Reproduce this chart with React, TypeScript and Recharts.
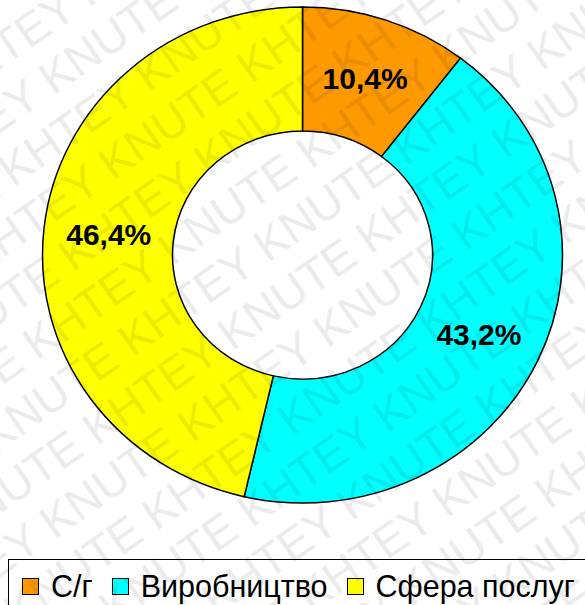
import { PieChart, Pie, Cell } from 'recharts'

// частки зайнятих за секторами, %
const categories = ['С/г', 'Виробництво', 'Сфера послуг']
const shares = [10.4, 43.2, 46.4]
const colors = ['#FF9900', '#00FFFF', '#FFFF00']

const data = categories.map((name, i) => ({ name, value: shares[i] }))

// оригінал трохи сплюснутий по вертикалі
const SY = 248 / 260
const RAD = Math.PI / 180

const fmtPct = (v: number) => v.toFixed(1).replace('.', ',') + '%'

// eslint-disable-next-line @typescript-eslint/no-explicit-any
function renderLabel(props: any) {
  const { cx, cy, midAngle, innerRadius, outerRadius, index } = props
  const r = (innerRadius + outerRadius) / 2
  const x = cx + r * Math.cos(-midAngle * RAD)
  const y = cy + r * Math.sin(-midAngle * RAD)
  return (
    <text
      transform={`translate(${x},${y}) scale(1,${1 / SY})`}
      x={0}
      y={0}
      textAnchor="middle"
      dominantBaseline="central"
      fontFamily="'Liberation Sans', Arial, sans-serif"
      fontWeight="bold"
      fontSize={30}
      fill="#000"
    >
      {fmtPct(shares[index])}
    </text>
  )
}

function Watermark() {
  const rows = []
  for (let i = 0; i < 28; i++) {
    rows.push(
      <text
        key={i}
        x={-620 + (i % 2) * 80}
        y={-420 + i * 52}
        fontFamily="'Liberation Sans', Arial, sans-serif"
        fontSize={46}
        fill="#000"
      >
        {'KHTEY KNUTE KHTEY KNUTE KHTEY KNUTE KHTEY KNUTE KHTEY'}
      </text>
    )
  }
  return (
    <svg
      width={585}
      height={605}
      style={{ position: 'absolute', left: 0, top: 0, pointerEvents: 'none' }}
    >
      <g transform="rotate(-35 292 300)" opacity={0.075}>{rows}</g>
    </svg>
  )
}

export default function App() {
  return (
    <div
      style={{
        position: 'absolute', left: 0, top: 0, width: 585, height: 605,
        overflow: 'hidden', background: '#fff',
      }}
    >
      <div style={{ position: 'absolute', left: 0, top: 0, transform: `scaleY(${SY})`, transformOrigin: '0 0' }}>
        <PieChart width={585} height={560} margin={{ top: 0, right: 0, bottom: 0, left: 0 }}>
          <Pie
            data={data}
            dataKey="value"
            nameKey="name"
            cx={302.5}
            cy={255 / SY}
            outerRadius={260}
            innerRadius={130}
            startAngle={90}
            endAngle={-270}
            stroke="#000"
            strokeWidth={1.5}
            label={renderLabel}
            labelLine={false}
            isAnimationActive={false}
          >
            {data.map((d, i) => (
              <Cell key={d.name} fill={colors[i]} />
            ))}
          </Pie>
        </PieChart>
      </div>

      {/* легенда */}
      <div
        style={{
          position: 'absolute', left: 8, top: 559, width: 620, height: 70,
          border: '1px solid #000', boxSizing: 'border-box',
          display: 'flex', alignItems: 'flex-start', paddingTop: 9, paddingLeft: 13,
          fontFamily: "'Liberation Sans', Arial, sans-serif", fontSize: 30.5, color: '#000',
        }}
      >
        {categories.map((c, i) => (
          <div key={c} style={{ display: 'flex', alignItems: 'center', marginRight: 19, whiteSpace: 'nowrap' }}>
            <span
              style={{
                display: 'inline-block', width: 17, height: 17, background: colors[i],
                border: '1.5px solid #000', boxSizing: 'border-box', marginRight: 12,
              }}
            />
            <span style={{ lineHeight: '34px' }}>{c}</span>
          </div>
        ))}
      </div>

      <Watermark />
    </div>
  )
}
